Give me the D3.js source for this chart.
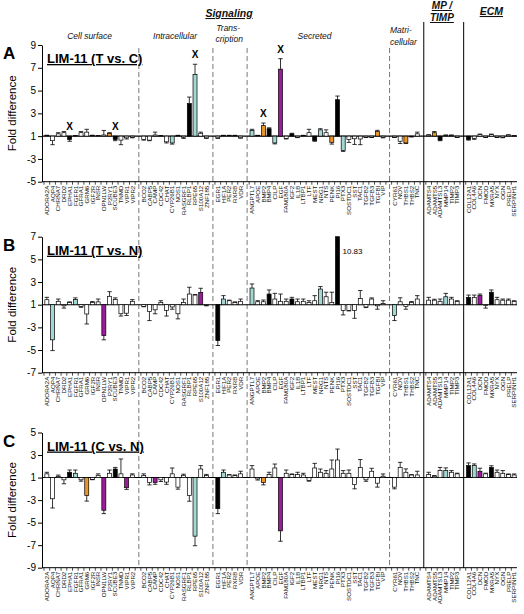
<!DOCTYPE html>
<html><head><meta charset="utf-8">
<script src="https://cdn.jsdelivr.net/npm/d3@7"></script>
<style>body{margin:0;background:#fff} text{font-family:Arial,"Liberation Sans",sans-serif}</style>
</head><body><svg id="c" width="524" height="614"></svg>
<script>
// ---------- DATA ----------
const cellSurface = ["ADORA2A","AQP4","CHRNA7","DRD2","EPHA1","FGFR1","GFRA1","GRM6","IGF2R","INSR","OPN1LW","P2RY1","SCUBE3","TNMD","VIPR1","VIPR2"];
const intracellular = ["BCO2","CABP5","CAMP","CDC42","CHAT","CYP26B1","NOS1","RASGRF1","RLBP1","RPE65","S100A12","ZNF185"];
const transcription = ["EGR1","HIF1A","PER2","RXRB","VDR"];
const secreted = ["ANGPTL7","APOE","BMP2","BMP4","CILP","EGF","FAM180A","IGF2","IL1B","LTBP1","LTF","MEST","NRG1","NTS","PENK","PI16","PTX3","SOSTDC1","SST","TAC1","TGFB2","TGFB3","TGFBI","VIP"];
const matricellular = ["CYR61","NOV","THBS1","THBS2","TNC"];
const mpTimp = ["ADAMTS4","ADAMTS5","ADAMTSL3","MMP14","TIMP2","TIMP3"];
const ecm = ["COL12A1","COL4A6","DCN","FMOD","MXRA5","NYX","OGN","PRELP","SERPINH1"];

// Panel A: T vs C (fold difference, SD, colour code)
const tvcValues = [1.05,-1.4,1.2,1.3,-1.3,1.03,1.3,1.35,1.05,1.03,1.1,1.25,-1.3,-1.35,-1.15,-1.1,
  -1.3,-1.35,1.1,1.03,-1.5,-1.6,1.05,-1.1,3.86,6.41,1.25,-1.15,
  -1.15,1.05,1.05,1.05,-1.15,
  1.5,1.05,1.92,1.65,-1.6,6.88,-1.2,1.2,-1.1,1.05,1.3,-1.4,1.55,1.3,-1.55,4.2,-2.26,-1.3,-1.23,-1.25,-1.1,-1.1,1.41,-1.1,
  -1.1,-1.45,-1.6,-1.05,1.2,
  1.1,1.3,-1.35,1.08,1.08,-1.1,
  -1.3,-1.2,1.13,-1.1,1.13,-1.1,-1.12,1.1,1.03];
const tvcErrors = [0.03,0.35,0.1,0.1,0.15,0.02,0.1,0.25,0.03,0.02,0.4,0.05,0.1,0.4,0.1,0.05,
  0.05,0.05,0.25,0.02,0.1,0.1,0.02,0.1,0.57,0.9,0.1,0.05,
  0.05,0.02,0.02,0.02,0.03,
  0.1,0.02,0.23,0.08,0.08,0.92,0.05,0.05,0.03,0.02,0.3,0.05,0.1,0.25,0.15,0.32,0.08,0.25,0.5,0.5,0.02,0.02,0.1,0.05,
  0.02,0.2,0.05,0.02,0.15,
  0.02,0.1,0.05,0.02,0.02,0.02,
  0.05,0.08,0.05,0.02,0.05,0.02,0.02,0.02,0.01];
const tvcColors = ["w","w","w","w","k","w","w","w","w","w","w","o","k","w","w","w",
  "w","w","w","w","w","c","w","w","k","c","w","w",
  "w","w","w","w","w",
  "c","w","o","k","c","p","w","k","w","w","w","k","c","w","o","k","c","w","w","w","w","w","o","w",
  "w","w","o","w","w",
  "w","o","k","w","w","w",
  "k","w","w","w","w","w","w","w","w"];
const tvcMarked = ["EPHA1","SCUBE3","RPE65","BMP2","EGF"];

// Panel B: T vs N
const tvnValues = [1.44,-4.1,1.3,-1.1,1.2,1.45,-1.15,-1.82,1.2,1.25,-3.73,1.74,1.45,-1.8,-1.75,1.3,
  -1.15,-1.6,-1.45,1.2,-1.5,-1.2,-1.8,1.2,1.94,1.85,2.09,-1.05,
  -4.17,1.5,1.35,1.2,1.3,
  2.47,1.26,1.26,1.94,1.5,1.3,1.3,1.5,1.26,1.3,1.2,1.35,2.38,1.7,1.2,10.83,-1.5,-1.5,-1.5,1.55,-1.2,1.5,-1.1,1.1,
  -1.95,1.26,-1.17,1.2,1.5,
  1.4,1.4,1.3,1.7,1.5,1.3,
  1.65,1.65,1.8,-1.05,2.1,1.44,1.4,1.4,1.3];
const tvnErrors = [0.21,0.95,0.2,0.2,0.05,0.15,0.08,0.88,0.08,0.25,0.37,0.41,0.15,0.2,0.2,0.15,
  0.03,0.8,0.35,0.15,0.5,0.2,0.45,0.3,0.6,0.05,0.36,0.05,
  0.43,0.3,0.05,0.05,0.2,
  0.36,0.1,0.15,0.36,0.5,0.64,0.2,0.15,0.24,0.2,0.15,0.45,0.22,0.4,0.9,0,0.4,0.05,0.7,0.7,0.05,0.1,0.3,0.25,
  0.45,0.35,0.23,0.08,0.3,
  0.25,0.08,0.2,0.3,0.15,0.05,
  0.2,0.2,0.14,0.25,0.2,0.21,0.1,0.1,0.05];
const tvnColors = ["w","c","w","w","w","c","w","w","w","w","p","w","w","w","w","w",
  "w","w","w","w","w","w","w","w","w","w","p","w",
  "k","c","w","w","w",
  "c","w","w","k","w","w","w","k","w","w","w","w","c","w","w","k","w","w","w","w","w","w","w","w",
  "c","w","w","w","w",
  "w","w","w","c","w","w",
  "k","w","p","w","k","w","w","w","w"];
const tvnNotes = [{gene:"PI16", text:"10.83"}];

// Panel C: C vs N
const cvnValues = [1.33,-2.88,1.1,-1.2,1.47,1.38,-1.2,-2.59,-1.17,1.2,-3.9,1.38,1.76,1.33,-1.9,1.23,
  1.18,-1.44,-1.44,-1.2,-1.4,1.33,-1.85,1.2,-2.6,-6.2,1.76,1.18,
  -3.76,1.47,1.23,1.18,1.33,
  1.76,-1.12,-1.44,1.26,1.85,-5.73,1.38,1.26,1.26,1.23,-1.26,1.85,1.47,1.38,1.76,2.56,1.38,1.38,-1.62,1.9,-1.2,1.56,-1.5,1.12,
  -1.85,1.9,1.47,1.23,1.23,
  1.26,1.12,1.62,1.62,1.47,1.33,
  2.06,2.06,1.56,1.33,1.9,1.47,1.38,1.26,1.23];
const cvnErrors = [0.14,0.82,0.12,0.35,0.2,0.29,0.12,0.5,0.02,0.13,0.3,0.29,0.14,1.32,0.15,0.1,
  0.15,0.21,0.16,0.15,0.2,0.52,0.18,0.1,0.5,0.85,0.3,0.1,
  0.44,0.2,0.03,0.05,0.23,
  0.3,0.1,0.21,0.21,0.35,0.92,0.29,0.06,0.21,0.15,0.06,0.41,0.29,0.24,0.8,0.97,0.24,0.29,0.38,0.7,0.13,0.26,0.35,0.2,
  0.15,0.45,0.3,0.03,0.33,
  0.21,0.06,0.28,0.24,0.15,0.06,
  0.24,0.15,0.27,0.06,0.15,0.2,0.24,0.06,0.09];
const cvnColors = ["w","w","w","w","k","c","w","o","w","w","p","w","k","w","p","w",
  "w","w","p","w","w","w","w","w","w","c","w","w",
  "k","c","w","w","w",
  "w","w","o","w","w","p","w","w","w","w","w","w","w","w","w","w","w","w","w","w","w","w","w","w",
  "w","w","w","w","w",
  "w","w","w","c","w","w",
  "k","c","p","w","k","w","w","w","w"];

const ticksA = [9,7,5,3,1,-3,-5];
const ticksB = [7,5,3,1,-3,-5,-7];
const ticksC = [5,3,1,-3,-5,-7,-9];

// ---------- BUILD ----------
const groups = [cellSurface,intracellular,transcription,secreted,matricellular,mpTimp,ecm];
const genes = groups.flat();
const slots = [];
const gapKeys = [];
groups.forEach((g,i)=>{ if(i>0){ const k="gap"+i; slots.push(k); gapKeys.push({key:k, solid:i>=5}); } g.forEach(n=>slots.push(n)); });

const fill = {w:"#ffffff",k:"#000000",c:"#a3d7d3",o:"#e8952b",p:"#9c1a9c"};
const svg = d3.select("#c");
const X0 = 42, XL = 44, XR = 517;
const x = d3.scaleBand().domain(slots).range([XL, XR]);
const bw = 4;

const panels = [
  {letter:"A", title:"LIM-11 (T vs. C)", values:tvcValues, errors:tvcErrors, colors:tvcColors, marked:tvcMarked, notes:[], ticks:ticksA, top:45, bottom:181.7},
  {letter:"B", title:"LIM-11 (T vs. N)", values:tvnValues, errors:tvnErrors, colors:tvnColors, marked:[], notes:tvnNotes, ticks:ticksB, top:236.7, bottom:372.7},
  {letter:"C", title:"LIM-11 (C vs. N)", values:cvnValues, errors:cvnErrors, colors:cvnColors, marked:[], notes:[], ticks:ticksC, top:432.5, bottom:567.7}
];
const toP = f => f >= 1 ? f : f + 2;

// separators
gapKeys.forEach(gk=>{
  const cx = x(gk.key) + x.bandwidth()/2 + 0.8;
  svg.append("line").attr("x1",cx).attr("x2",cx)
    .attr("y1", gk.solid ? 22 : 48).attr("y2", 568)
    .attr("stroke", gk.solid ? "#000" : "#555")
    .attr("stroke-width", gk.solid ? 1 : 0.8)
    .attr("stroke-dasharray", gk.solid ? null : "5,3");
});

panels.forEach(P=>{
  const y = d3.scaleLinear().domain([toP(d3.min(P.ticks)), toP(d3.max(P.ticks))]).range([P.bottom, P.top]);
  const g = svg.append("g");
  const ya = g.append("g").attr("transform",`translate(${X0},0)`)
    .call(d3.axisLeft(y).tickValues(P.ticks.map(toP)).tickFormat((d,i)=>P.ticks[i]).tickSize(4).tickSizeOuter(0));
  ya.selectAll("text").attr("font-size",10).attr("font-family","Arial, Liberation Sans, sans-serif").attr("fill","#000").attr("x",-6);
  ya.selectAll("line,path").attr("stroke","#000");
  g.append("line").attr("x1",X0).attr("x2",XR).attr("y1",P.bottom).attr("y2",P.bottom).attr("stroke","#000");
  slots.forEach(s=>{
    const tx = x(s);
    g.append("line").attr("x1",tx).attr("x2",tx).attr("y1",P.bottom).attr("y2",P.bottom+3).attr("stroke","#000").attr("stroke-width",0.7);
  });
  const xa = g.append("g").attr("transform",`translate(0,${P.bottom})`)
    .call(d3.axisBottom(x).tickValues(genes).tickSize(0).tickSizeOuter(0));
  xa.select(".domain").remove();
  xa.selectAll("text").attr("font-size",6.2).attr("font-family","Arial, Liberation Sans, sans-serif").attr("fill","#111")
    .attr("text-anchor","end").attr("transform","rotate(-90)").attr("x",-4).attr("y",0).attr("dy","0.35em");
  const y1 = y(1);
  g.append("line").attr("x1",X0).attr("x2",XR).attr("y1",y1).attr("y2",y1).attr("stroke","#000").attr("stroke-width",1.1);
  const pmax = toP(d3.max(P.ticks));
  genes.forEach((gene,i)=>{
    const v = P.values[i], e = P.errors[i];
    const p = Math.min(toP(v), pmax);
    const cx = x(gene) + x.bandwidth()/2;
    const yv = y(p);
    g.append("rect").attr("x",cx-bw/2).attr("width",bw)
      .attr("y",Math.min(yv,y1)).attr("height",Math.max(0.6,Math.abs(yv-y1)))
      .attr("fill",fill[P.colors[i]]).attr("stroke","#000").attr("stroke-width",0.7);
    if(e>0){
      const pe = v>=1 ? p+e : p-e;
      const ye = y(pe);
      g.append("line").attr("x1",cx).attr("x2",cx).attr("y1",yv).attr("y2",ye).attr("stroke","#000").attr("stroke-width",0.8);
      g.append("line").attr("x1",cx-2.2).attr("x2",cx+2.2).attr("y1",ye).attr("y2",ye).attr("stroke","#000").attr("stroke-width",0.8);
    }
    if(P.marked.includes(gene)){
      const topY = v>=1 ? y(p+e) : y1;
      g.append("text").attr("x",cx).attr("y",topY-6).attr("text-anchor","middle")
        .attr("font-size",10).attr("font-weight","bold").text("X");
    }
    P.notes.filter(n=>n.gene===gene).forEach(n=>{
      g.append("text").attr("x",cx+bw/2+3).attr("y",P.top+17).attr("font-size",8).text(n.text);
    });
  });
  g.append("text").attr("x",3).attr("y",P.top+14).attr("font-size",17).attr("font-weight","bold").text(P.letter);
  g.append("text").attr("x",47).attr("y",P.top+18).attr("font-size",13).attr("font-weight","bold")
    .attr("text-decoration","underline").text(P.title);
  g.append("text").attr("transform",`translate(16,${(P.top+P.bottom)/2}) rotate(-90)`).attr("text-anchor","middle")
    .attr("font-size",11.5).text("Fold difference");
});

const hdr = (t,cx,yy,opt={})=>svg.append("text").attr("x",cx).attr("y",yy).attr("text-anchor",opt.anchor||"middle")
  .attr("font-size",opt.size||8.5).attr("font-style","italic").attr("font-weight",opt.bold?"bold":null)
  .attr("text-decoration",opt.ul?"underline":null).attr("fill","#111").text(t);
const gc = arr => (x(arr[0]) + x(arr[arr.length-1]) + x.bandwidth())/2;
hdr("Signaling", 229, 17, {bold:true, ul:true, size:10.5});
hdr("Cell surface", gc(cellSurface), 39);
hdr("Intracellular", gc(intracellular), 39);
hdr("Trans-", gc(transcription)-1, 31);
hdr("cription", gc(transcription), 42);
hdr("Secreted", gc(secreted)-3, 39);
hdr("Matri-", 390, 33, {anchor:"start"});
hdr("cellular", 390, 45, {anchor:"start"});
hdr("MP /", gc(mpTimp)-1, 9, {bold:true, ul:true, size:10});
hdr("TIMP", gc(mpTimp)-1, 21, {bold:true, ul:true, size:10});
hdr("ECM", gc(ecm), 15, {bold:true, ul:true, size:10.5});
</script></body></html>
